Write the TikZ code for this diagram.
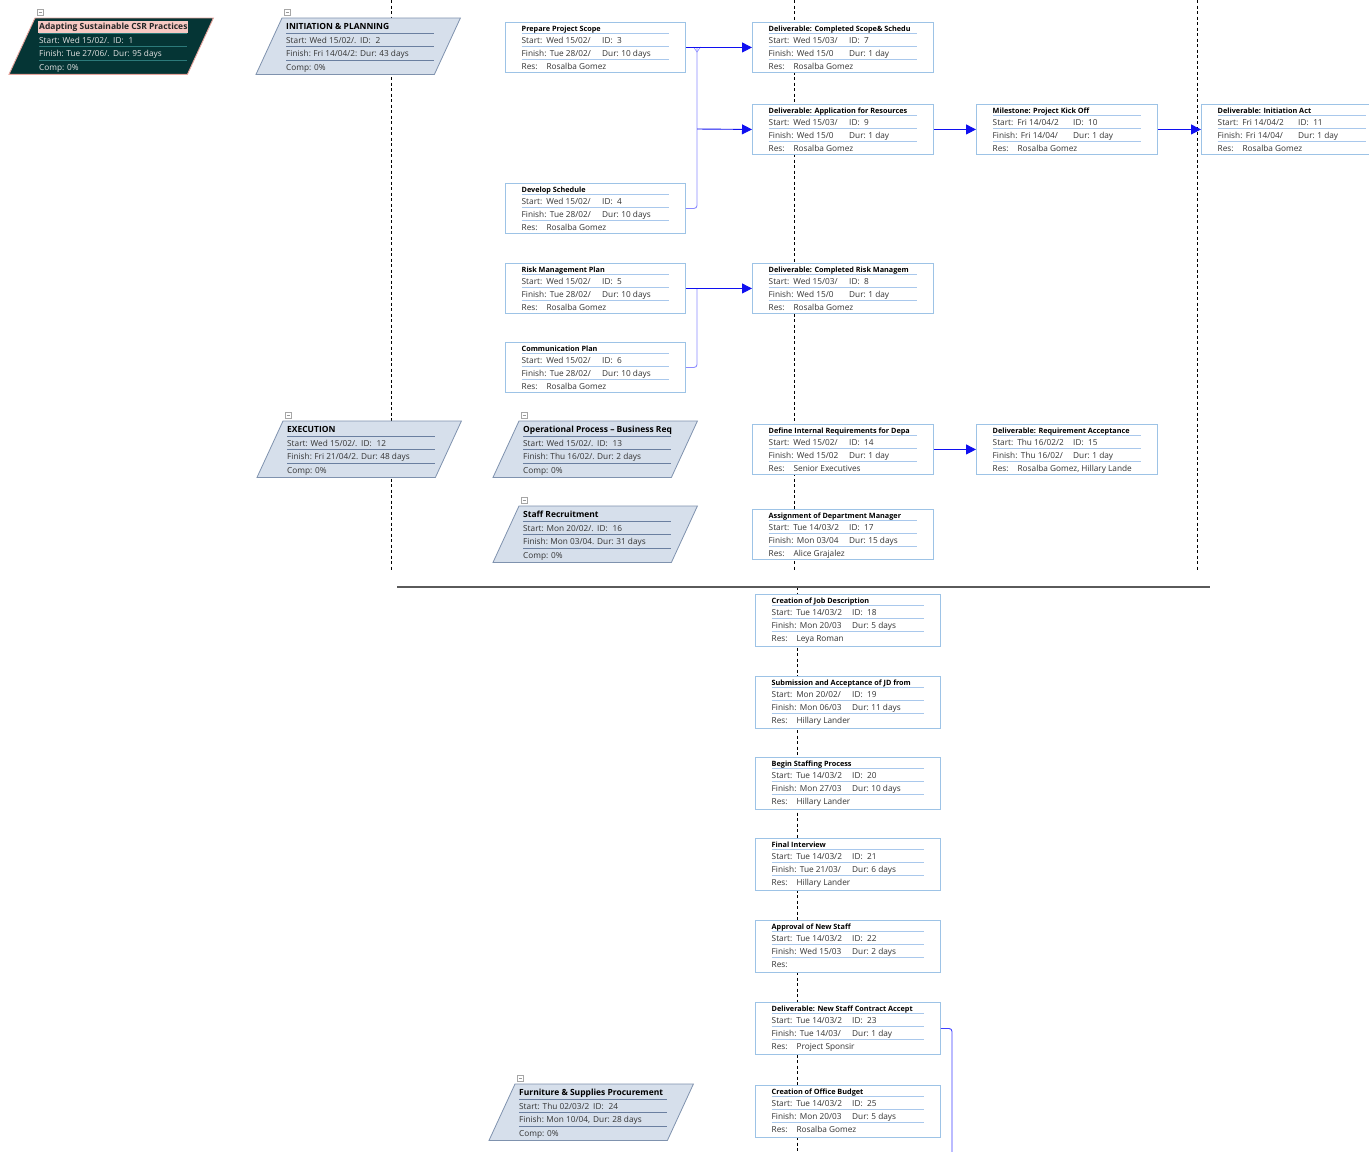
\documentclass[tikz,border=0pt]{standalone}
\usepackage{fontspec}
\setmainfont{Open Sans}
\usetikzlibrary{calc,arrows.meta}

\definecolor{boxline}{HTML}{9DC3E6}
\definecolor{rowline}{HTML}{A9C8EC}
\definecolor{sumfill}{HTML}{D6DFEB}
\definecolor{sumline}{HTML}{7F92AE}
\definecolor{sumrow}{HTML}{6A7FA0}
\definecolor{rootfill}{HTML}{053535}
\definecolor{rootline}{HTML}{E6A49C}
\definecolor{roothl}{HTML}{F7C9C3}
\definecolor{rootrow}{HTML}{2C7A7A}
\definecolor{roottext}{HTML}{E4E4E4}
\definecolor{linkdark}{HTML}{1010F0}
\definecolor{linklight}{HTML}{8C8CFF}
\definecolor{bodytext}{HTML}{333333}
\definecolor{rulegray}{HTML}{5A5A5A}

\tikzset{
  x=1bp, y=-1bp,
  taskbox/.style={draw=boxline, fill=white, line width=0.9bp, minimum height=50bp,
    inner sep=0pt, anchor=north west},
  phaseframe/.style={inner sep=0pt, minimum width=204bp, minimum height=56bp, anchor=north west},
  phasebody/.style={draw=sumline, fill=sumfill, line width=0.8bp},
  phasesep/.style={draw=sumrow, line width=0.9bp},
  phasetxt/.style={anchor=base west, inner sep=0pt, text=bodytext, font=\fontsize{8.3}{9}\selectfont},
  phasehead/.style={anchor=base west, inner sep=0pt, text=black, font=\fontsize{8.5}{9}\selectfont\bfseries},
  bodytxt/.style={anchor=base west, inner sep=0pt, text=bodytext, font=\fontsize{8.3}{9}\selectfont},
  headtxt/.style={anchor=base west, inner sep=0pt, text=black, font=\fontsize{7.3}{8}\selectfont\bfseries},
  rowsep/.style={draw=rowline, line width=0.9bp},
  link/.style={draw=linkdark, line width=0.9bp},
  feeder/.style={draw=linklight, line width=0.9bp},
  tip/.style={-{Triangle[length=10bp,width=10bp]}},
  guide/.style={draw=black, line width=0.6bp, dash pattern=on 3bp off 2.5bp},
  collapse/.style={draw=gray!70, fill=white, line width=0.5bp, minimum size=6bp,
    inner sep=0pt, anchor=north west},
}

% task card: name, top-left, width, title, start, id, finish, duration, resources
\newcommand\task[9]{%
  \node[taskbox, minimum width=#3bp] (#1) at (#2) {};
  \node[headtxt] (#1-h) at ($(#1.north west)+(16.5,9)$) {#4};
  \draw[rowsep] ($(#1.north west)+(16.5,11.5)$) -- ++(#3-33,0);
  \node[bodytxt] (#1-s) at ($(#1.north west)+(16.5,21.5)$) {Start:\hspace{4bp}#5};
  \node[bodytxt] (#1-i) at ($(#1.north west)+(97,21.5)$) {ID:\hspace{4.5bp}#6};
  \draw[rowsep] ($(#1.north west)+(16.5,24.5)$) -- ++(#3-33,0);
  \node[bodytxt] (#1-f) at ($(#1.north west)+(16.5,34.5)$) {Finish:\hspace{3.5bp}#7};
  \node[bodytxt] (#1-d) at ($(#1.north west)+(97,34.5)$) {Dur:\hspace{2.5bp}#8};
  \draw[rowsep] ($(#1.north west)+(16.5,37.5)$) -- ++(#3-33,0);
  \node[bodytxt] (#1-r) at ($(#1.north west)+(16.5,47.5)$) {Res:\hspace{9bp}#9};
}

% summary parallelogram: name, x, y, title, start, id, finish, duration
\newcommand\phase[8]{%
  \node[phaseframe] (#1) at (#2,#3) {};
  \draw[phasebody] (#1.south west) -- ($(#1.north west)+(26,0)$) -- (#1.north east)
    -- ($(#1.south east)+(-26,0)$) -- cycle;
  \node[collapse] (#1-c) at ($(#1.north west)+(28,-9)$) {};
  \draw[gray!80, line width=0.5bp] ($(#1-c.west)+(1.5,0)$) -- ($(#1-c.east)+(-1.5,0)$);
  \node[phasehead] (#1-h) at ($(#1.north west)+(30,11)$) {#4};
  \draw[phasesep] ($(#1.north west)+(30,15)$) -- ++(148,0);
  \node[phasetxt] (#1-s) at ($(#1.north west)+(30,25)$) {Start:\hspace{3bp}#5};
  \node[phasetxt] (#1-i) at ($(#1.north west)+(104,25)$) {ID:\hspace{5bp}#6};
  \draw[phasesep] ($(#1.north west)+(30,28.5)$) -- ++(148,0);
  \node[phasetxt] (#1-f) at ($(#1.north west)+(30,38.5)$) {Finish:\hspace{2.5bp}#7};
  \node[phasetxt] (#1-d) at ($(#1.north west)+(104,38.5)$) {Dur:\hspace{2.5bp}#8};
  \draw[phasesep] ($(#1.north west)+(30,42)$) -- ++(148,0);
  \node[phasetxt] (#1-p) at ($(#1.north west)+(30,52)$) {Comp: 0\%};
}

\begin{document}
\begin{tikzpicture}
\clip (0,0) rectangle (1369,1151);
\fill[white] (0,0) rectangle (1369,1151);

% level guides and the band separator
\draw[guide] (391,0) -- (391,570);
\draw[guide] (794,0) -- (794,570);
\draw[guide] (1197,0) -- (1197,570);
\draw[guide] (797,587) -- (797,1151);
\draw[rulegray, line width=1.2bp] (397,587) -- (1210,587);

% project root
\begin{scope}[phasebody/.style={draw=rootline, fill=rootfill, line width=0.9bp},
  phasesep/.style={draw=rootrow, line width=0.9bp},
  phasetxt/.style={anchor=base west, inner sep=0pt, text=roottext, font=\fontsize{8.3}{9}\selectfont},
  phasehead/.style={anchor=base west, inner xsep=1bp, inner ysep=1.5bp, xshift=-1bp, fill=roothl,
    text=black!85, font=\fontsize{8.5}{9}\selectfont\bfseries}]
  \phase{root}{9}{18}{Adapting Sustainable CSR Practices}{Wed 15/02/.}{1}{Tue 27/06/.}{95 days}
\end{scope}

% phases
\phase{init}{256}{18}{INITIATION \& PLANNING}{Wed 15/02/.}{2}{Fri 14/04/2:}{43 days}
\phase{exec}{257}{421}{EXECUTION}{Wed 15/02/.}{12}{Fri 21/04/2.}{48 days}
\phase{opr}{493}{421}{Operational Process – Business Req}{Wed 15/02/.}{13}{Thu 16/02/.}{2 days}
\phase{staff}{493}{506}{Staff Recruitment}{Mon 20/02/.}{16}{Mon 03/04.}{31 days}
\phase{furn}{489}{1084}{Furniture \& Supplies Procurement}{Thu 02/03/2}{24}{Mon 10/04,}{28 days}

% initiation tasks
\task{pps}{505,22}{180}{Prepare Project Scope}{Wed 15/02/}{3}{Tue 28/02/}{10 days}{Rosalba Gomez}
\task{ds}{505,183}{180}{Develop Schedule}{Wed 15/02/}{4}{Tue 28/02/}{10 days}{Rosalba Gomez}
\task{rmp}{505,263}{180}{Risk Management Plan}{Wed 15/02/}{5}{Tue 28/02/}{10 days}{Rosalba Gomez}
\task{cp}{505,342}{180}{Communication Plan}{Wed 15/02/}{6}{Tue 28/02/}{10 days}{Rosalba Gomez}
\task{d7}{752,22}{181}{Deliverable: Completed Scope\& Schedu}{Wed 15/03/}{7}{Wed 15/0}{1 day}{Rosalba Gomez}
\task{d9}{752,104}{181}{Deliverable: Application for Resources}{Wed 15/03/}{9}{Wed 15/0}{1 day}{Rosalba Gomez}
\task{d8}{752,263}{181}{Deliverable: Completed Risk Managem}{Wed 15/03/}{8}{Wed 15/0}{1 day}{Rosalba Gomez}
\task{m10}{976,104}{181}{Milestone: Project Kick Off}{Fri 14/04/2}{10}{Fri 14/04/}{1 day}{Rosalba Gomez}
\task{d11}{1201,104}{181}{Deliverable: Initiation Act}{Fri 14/04/2}{11}{Fri 14/04/}{1 day}{Rosalba Gomez}

% execution tasks
\task{t14}{752,424}{181}{Define Internal Requirements for Depa}{Wed 15/02/}{14}{Wed 15/02}{1 day}{Senior Executives}
\task{d15}{976,424}{181}{Deliverable: Requirement Acceptance}{Thu 16/02/2}{15}{Thu 16/02/}{1 day}{Rosalba Gomez, Hillary Lande}
\task{t17}{752,509}{181}{Assignment of Department Manager}{Tue 14/03/2}{17}{Mon 03/04}{15 days}{Alice Grajalez}

\begin{scope}[taskbox/.append style={minimum height=52bp}]
\task{t18}{755,594}{185}{Creation of Job Description}{Tue 14/03/2}{18}{Mon 20/03}{5 days}{Leya Roman}
\task{t19}{755,676}{185}{Submission and Acceptance of JD from}{Mon 20/02/}{19}{Mon 06/03}{11 days}{Hillary Lander}
\task{t20}{755,757}{185}{Begin Staffing Process}{Tue 14/03/2}{20}{Mon 27/03}{10 days}{Hillary Lander}
\task{t21}{755,838}{185}{Final Interview}{Tue 14/03/2}{21}{Tue 21/03/}{6 days}{Hillary Lander}
\task{t22}{755,920}{185}{Approval of New Staff}{Tue 14/03/2}{22}{Wed 15/03}{2 days}{}
\task{d23}{755,1002}{185}{Deliverable: New Staff Contract Accept}{Tue 14/03/2}{23}{Tue 14/03/}{1 day}{Project Sponsir}
\task{t25}{755,1085}{185}{Creation of Office Budget}{Tue 14/03/2}{25}{Mon 20/03}{5 days}{Rosalba Gomez}
\end{scope}

% dependency links
\coordinate (j1) at (697,47);
\coordinate (j2) at (697,129);
\coordinate (j3) at (697,288);
\coordinate (c23) at (952,1165);

\draw[feeder, rounded corners=3bp] (ds.east) -| (j1);
\draw[feeder, line width=0.6bp] ($(j1)+(-3.5,0)$) -- ($(j1)+(0,5)$) -- ($(j1)+(3.5,0)$);
\draw[link, tip] (pps.east) -- (d7.west);
\draw[link, tip] (j2) -- (d9.west);
\draw[feeder, rounded corners=3bp] (cp.east) -| (j3);
\draw[link, tip] (rmp.east) -- (d8.west);
\draw[link, tip] (d9.east) -- (m10.west);
\draw[link, tip] (m10.east) -- (d11.west);
\draw[link, tip] (t14.east) -- (d15.west);
\draw[link, draw=blue!75!white, rounded corners=3bp] (d23.east) -| (c23);
\end{tikzpicture}
\end{document}
